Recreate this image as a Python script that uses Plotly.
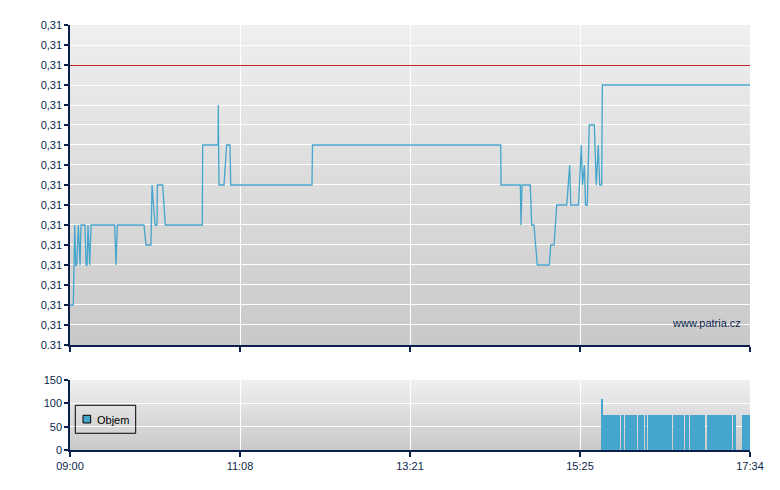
import plotly.graph_objects as go

# ---------------- data ----------------
# time in minutes after 09:00 (axis spans 09:00 .. 17:34 as 0 .. 514)
tick_pos = [0, 128.5, 257, 385.5, 514]
tick_times = ["09:00", "11:08", "13:21", "15:25", "17:34"]

price_t = [0, 2.5, 3.6, 4.3, 5.1, 6.3, 7.6, 8.3, 11.3, 12.1, 12.9, 13.6, 14.9, 15.9,
           33.8, 34.8, 35.8, 55.9, 57.5, 61.2, 62.0, 64.3, 65.8, 66.0, 70.1, 72.0,
           100.0, 100.3, 111.9, 112.1, 112.6, 116.4, 118.4, 120.9, 121.5, 182.9, 183.3,
           325.6, 325.8, 340.4, 340.9, 341.7, 347.9, 349.0, 350.7, 353.2, 362.3, 363.4,
           365.9, 367.9, 375.5, 377.7, 378.5, 384.4, 385.1, 386.5, 387.4, 388.8, 389.7,
           391.0, 392.5, 396.3, 397.8, 399.3, 400.4, 401.9, 402.4, 514]
price_v = [0.3070, 0.3070, 0.3090, 0.3080, 0.3080, 0.3090, 0.3080, 0.3090, 0.3090, 0.3080,
           0.3080, 0.3090, 0.3080, 0.3090,
           0.3090, 0.3080, 0.3090, 0.3090, 0.3085, 0.3085, 0.3100, 0.3090, 0.3090, 0.3100,
           0.3100, 0.3090,
           0.3090, 0.3110, 0.3110, 0.3120, 0.3100, 0.3100, 0.3110, 0.3110, 0.3100, 0.3100,
           0.3110,
           0.3110, 0.3100, 0.3100, 0.3090, 0.3100, 0.3100, 0.3090, 0.3090, 0.3080, 0.3080,
           0.3085,
           0.3085, 0.3095, 0.3095, 0.3105, 0.3095, 0.3095, 0.3100, 0.3110, 0.3100, 0.3105,
           0.3095,
           0.3095, 0.3115, 0.3115, 0.3100, 0.3110, 0.3100, 0.3100, 0.3125, 0.3125]

ref_price = 0.3130

price_ticks = [0.3060, 0.3065, 0.3070, 0.3075, 0.3080, 0.3085, 0.3090, 0.3095, 0.3100,
               0.3105, 0.3110, 0.3115, 0.3120, 0.3125, 0.3130, 0.3135, 0.3140]
price_tick_text = ["0.31"] + ["0,31"] * 16

vol_start = [402.1, 403.1, 416.7, 419.7, 429.3, 434.9, 436.9, 455.8, 464.9, 468.9, 481.5, 501.2, 507.9]
vol_end = [402.9, 415.7, 418.8, 428.4, 433.9, 435.9, 454.8, 463.9, 467.9, 480.0, 500.2, 503.4, 514.0]
vol_val = [110, 75, 75, 75, 75, 75, 75, 75, 75, 75, 75, 75, 75]
vol_ticks = [0, 50, 100, 150]

# ---------------- styling ----------------
NAVY = "#0b1f4d"
BLUE = "#45a5cc"
FONT = dict(family="Liberation Sans, Arial, sans-serif", size=11, color=NAVY)

vol_x = [(a + b) / 2 for a, b in zip(vol_start, vol_end)]
vol_w = [(b - a) for a, b in zip(vol_start, vol_end)]

Y_RANGE = [0.3060, 0.3140]
MAIN_PX = 320  # main panel height in px
half_px = (Y_RANGE[1] - Y_RANGE[0]) / MAIN_PX / 2  # nudge so the 1px line is crisp

fig = go.Figure()
fig.add_trace(go.Scatter(x=price_t, y=price_v, mode="lines",
                         line=dict(color=BLUE, width=1.3), showlegend=False,
                         xaxis="x", yaxis="y", hoverinfo="skip"))
fig.add_trace(go.Bar(x=vol_x, y=vol_val, width=vol_w, marker=dict(color=BLUE, line=dict(width=0)),
                     showlegend=False, xaxis="x2", yaxis="y2", hoverinfo="skip"))

shapes = []


def gradient(xref, yref, top, bottom, n=40):
    # stacked rects, each from the bottom up to its band top: no seams
    for i in range(n):
        f = i / (n - 1)
        c = [round(top[k] + (bottom[k] - top[k]) * f) for k in range(3)]
        shapes.append(dict(type="rect", xref=xref, yref=yref, x0=0, x1=1,
                           y0=0, y1=1 - i / n, layer="below",
                           fillcolor="rgb(%d,%d,%d)" % tuple(c), line=dict(width=0)))


gradient("x domain", "y domain", (239, 239, 239), (201, 201, 201))
gradient("x2 domain", "y2 domain", (239, 239, 239), (202, 202, 202))

# reference line
shapes.append(dict(type="line", xref="x domain", yref="y", x0=0, x1=1,
                   y0=ref_price - half_px, y1=ref_price - half_px,
                   line=dict(color="#c02828", width=1)))

# manual legend
shapes.append(dict(type="rect", xref="x2 domain", yref="y2 domain", x0=0.0078, x1=0.0966,
                   y0=0.239, y1=0.639, line=dict(color="#000000", width=1), fillcolor="rgba(0,0,0,0)"))
shapes.append(dict(type="rect", xref="x2 domain", yref="y2 domain", x0=0.0191, x1=0.0304,
                   y0=0.386, y1=0.496, line=dict(color="#000000", width=1), fillcolor=BLUE))

annotations = [
    dict(text="Objem", xref="x2 domain", yref="y2 domain", x=0.0368, y=0.43,
         xanchor="left", yanchor="middle", showarrow=False, font=dict(FONT, color="#000000")),
    dict(text="www.patria.cz", xref="x domain", yref="y domain", x=0.989, y=0.069,
         xanchor="right", yanchor="middle", showarrow=False, font=FONT),
]

axis_common = dict(showline=True, linecolor=NAVY, linewidth=1.5, ticks="outside", tickcolor=NAVY,
                   tickwidth=1.5, showgrid=True, gridcolor="#ffffff", gridwidth=1, zeroline=False,
                   tickfont=FONT, fixedrange=True)

# the page body adds an 8px offset; margins compensate so the plot area sits at x 70-750, y 25-450
fig.update_layout(
    width=780, height=490,
    margin=dict(l=62, r=38, t=17, b=48),
    paper_bgcolor="#ffffff", plot_bgcolor="rgba(0,0,0,0)",
    font=FONT, showlegend=False, bargap=0,
    shapes=shapes, annotations=annotations,
    xaxis=dict(axis_common, domain=[0, 1], range=[0, 514], tickvals=tick_pos,
               showticklabels=False, ticklen=5, anchor="y"),
    yaxis=dict(axis_common, domain=[0.2471, 1], range=Y_RANGE, tickvals=price_ticks,
               ticktext=price_tick_text, ticklen=4, anchor="x"),
    xaxis2=dict(axis_common, domain=[0, 1], range=[0, 514], tickvals=tick_pos,
                ticktext=tick_times, ticklen=5, anchor="y2"),
    yaxis2=dict(axis_common, domain=[0, 0.1647], range=[0, 150], tickvals=vol_ticks,
                ticklen=4, anchor="x2"),
)

fig.write_html("out.html")
